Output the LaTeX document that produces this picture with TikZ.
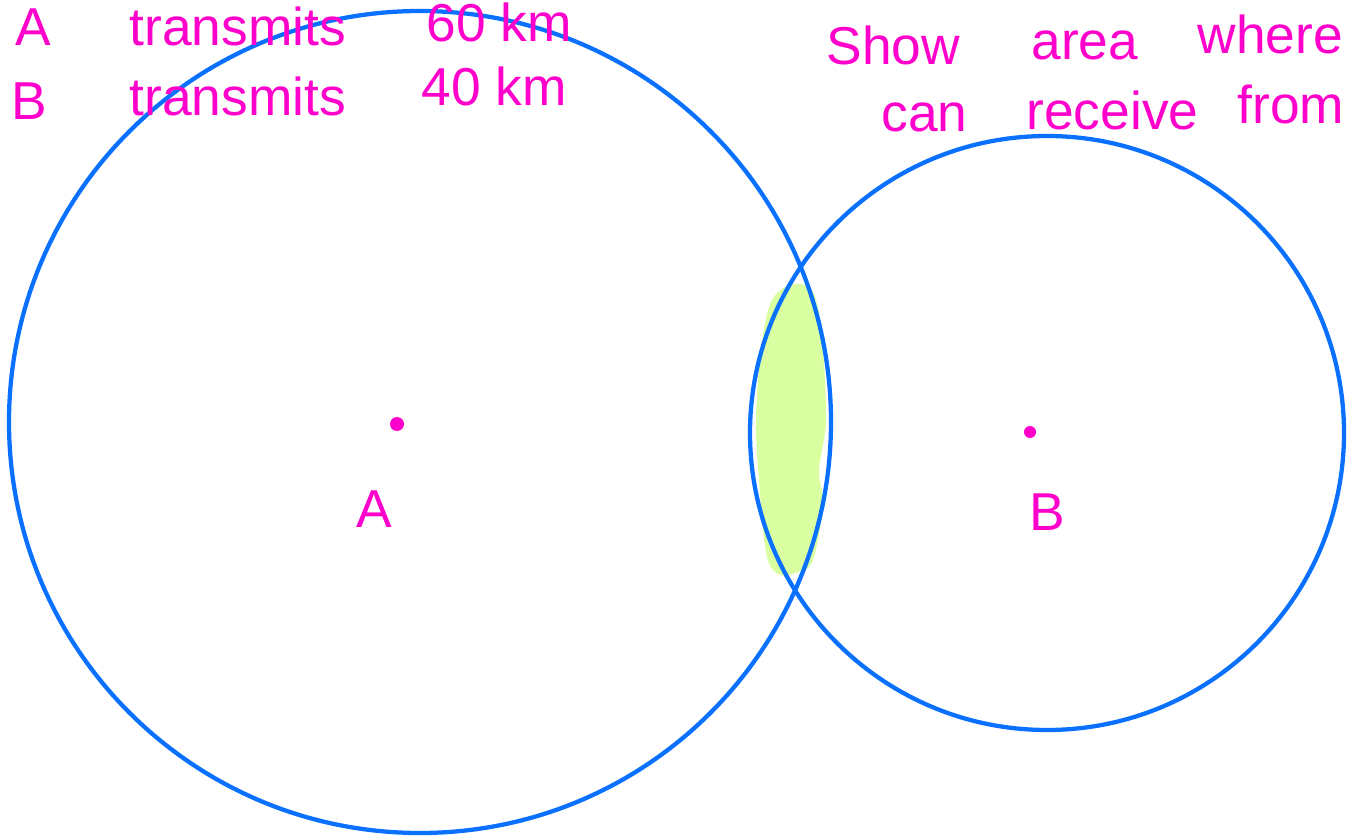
\documentclass[tikz,border=0pt]{standalone}
\usepackage{fontspec}
\setmainfont{Liberation Sans}

\tikzset{every picture/.style={line width=0.75pt}}
\definecolor{pinkink}{RGB}{255,0,204}
\definecolor{blueink}{RGB}{10,112,255}
\definecolor{hilite}{RGB}{218,255,160}
\tikzset{
  ink/.style={text=pinkink, font=\fontsize{40}{44}\selectfont, inner sep=0.75pt, anchor=base west},
  coverage/.style={draw=blueink, line width=3.2pt},
}

\begin{document}
\begin{tikzpicture}[x=0.75pt,y=0.75pt,yscale=-1,xscale=1]
\useasboundingbox (0,0) rectangle (1350,838);

\coordinate (A) at (420,422);
\coordinate (B) at (1047,433);

%Shape: highlight of overlap
\fill [hilite] plot [smooth cycle, tension=0.6] coordinates {(795,284) (814,294) (822,340) (826,420) (819,470) (823,505) (813,560) (798,572) (778,574) (766,552) (759,480) (756,420) (761,350) (772,300)};

%Shape: Circle A
\draw [coverage] (A) circle [radius=411];
%Shape: Circle B
\draw [coverage] (B) circle [radius=297];

%Shape: centre dots
\fill [pinkink] (397,424) circle [radius=7];
\fill [pinkink] (1030,432) circle [radius=6];

% Text Node
\node [ink] (txA) at (14,46) {A};
\node [ink] (txAtr) at (128,46) {transmits};
\node [ink] (txAkm) at (425,42) {60 km};
% Text Node
\node [ink] (txB) at (10,120) {B};
\node [ink] (txBtr) at (128,116) {transmits};
\node [ink] (txBkm) at (420,106) {40 km};
% Text Node
\node [ink] (txShow) at (825,65) {Show};
\node [ink] (txArea) at (1030,60) {area};
\node [ink] (txWhere) at (1196,54) {where};
% Text Node
\node [ink] (txCan) at (880,132) {can};
\node [ink] (txRec) at (1025,130) {receive};
\node [ink] (txFrom) at (1236,124) {from};
% Text Node
\node [ink] (lblA) at (355,527) {A};
\node [ink] (lblB) at (1028,530) {B};

\end{tikzpicture}
\end{document}
